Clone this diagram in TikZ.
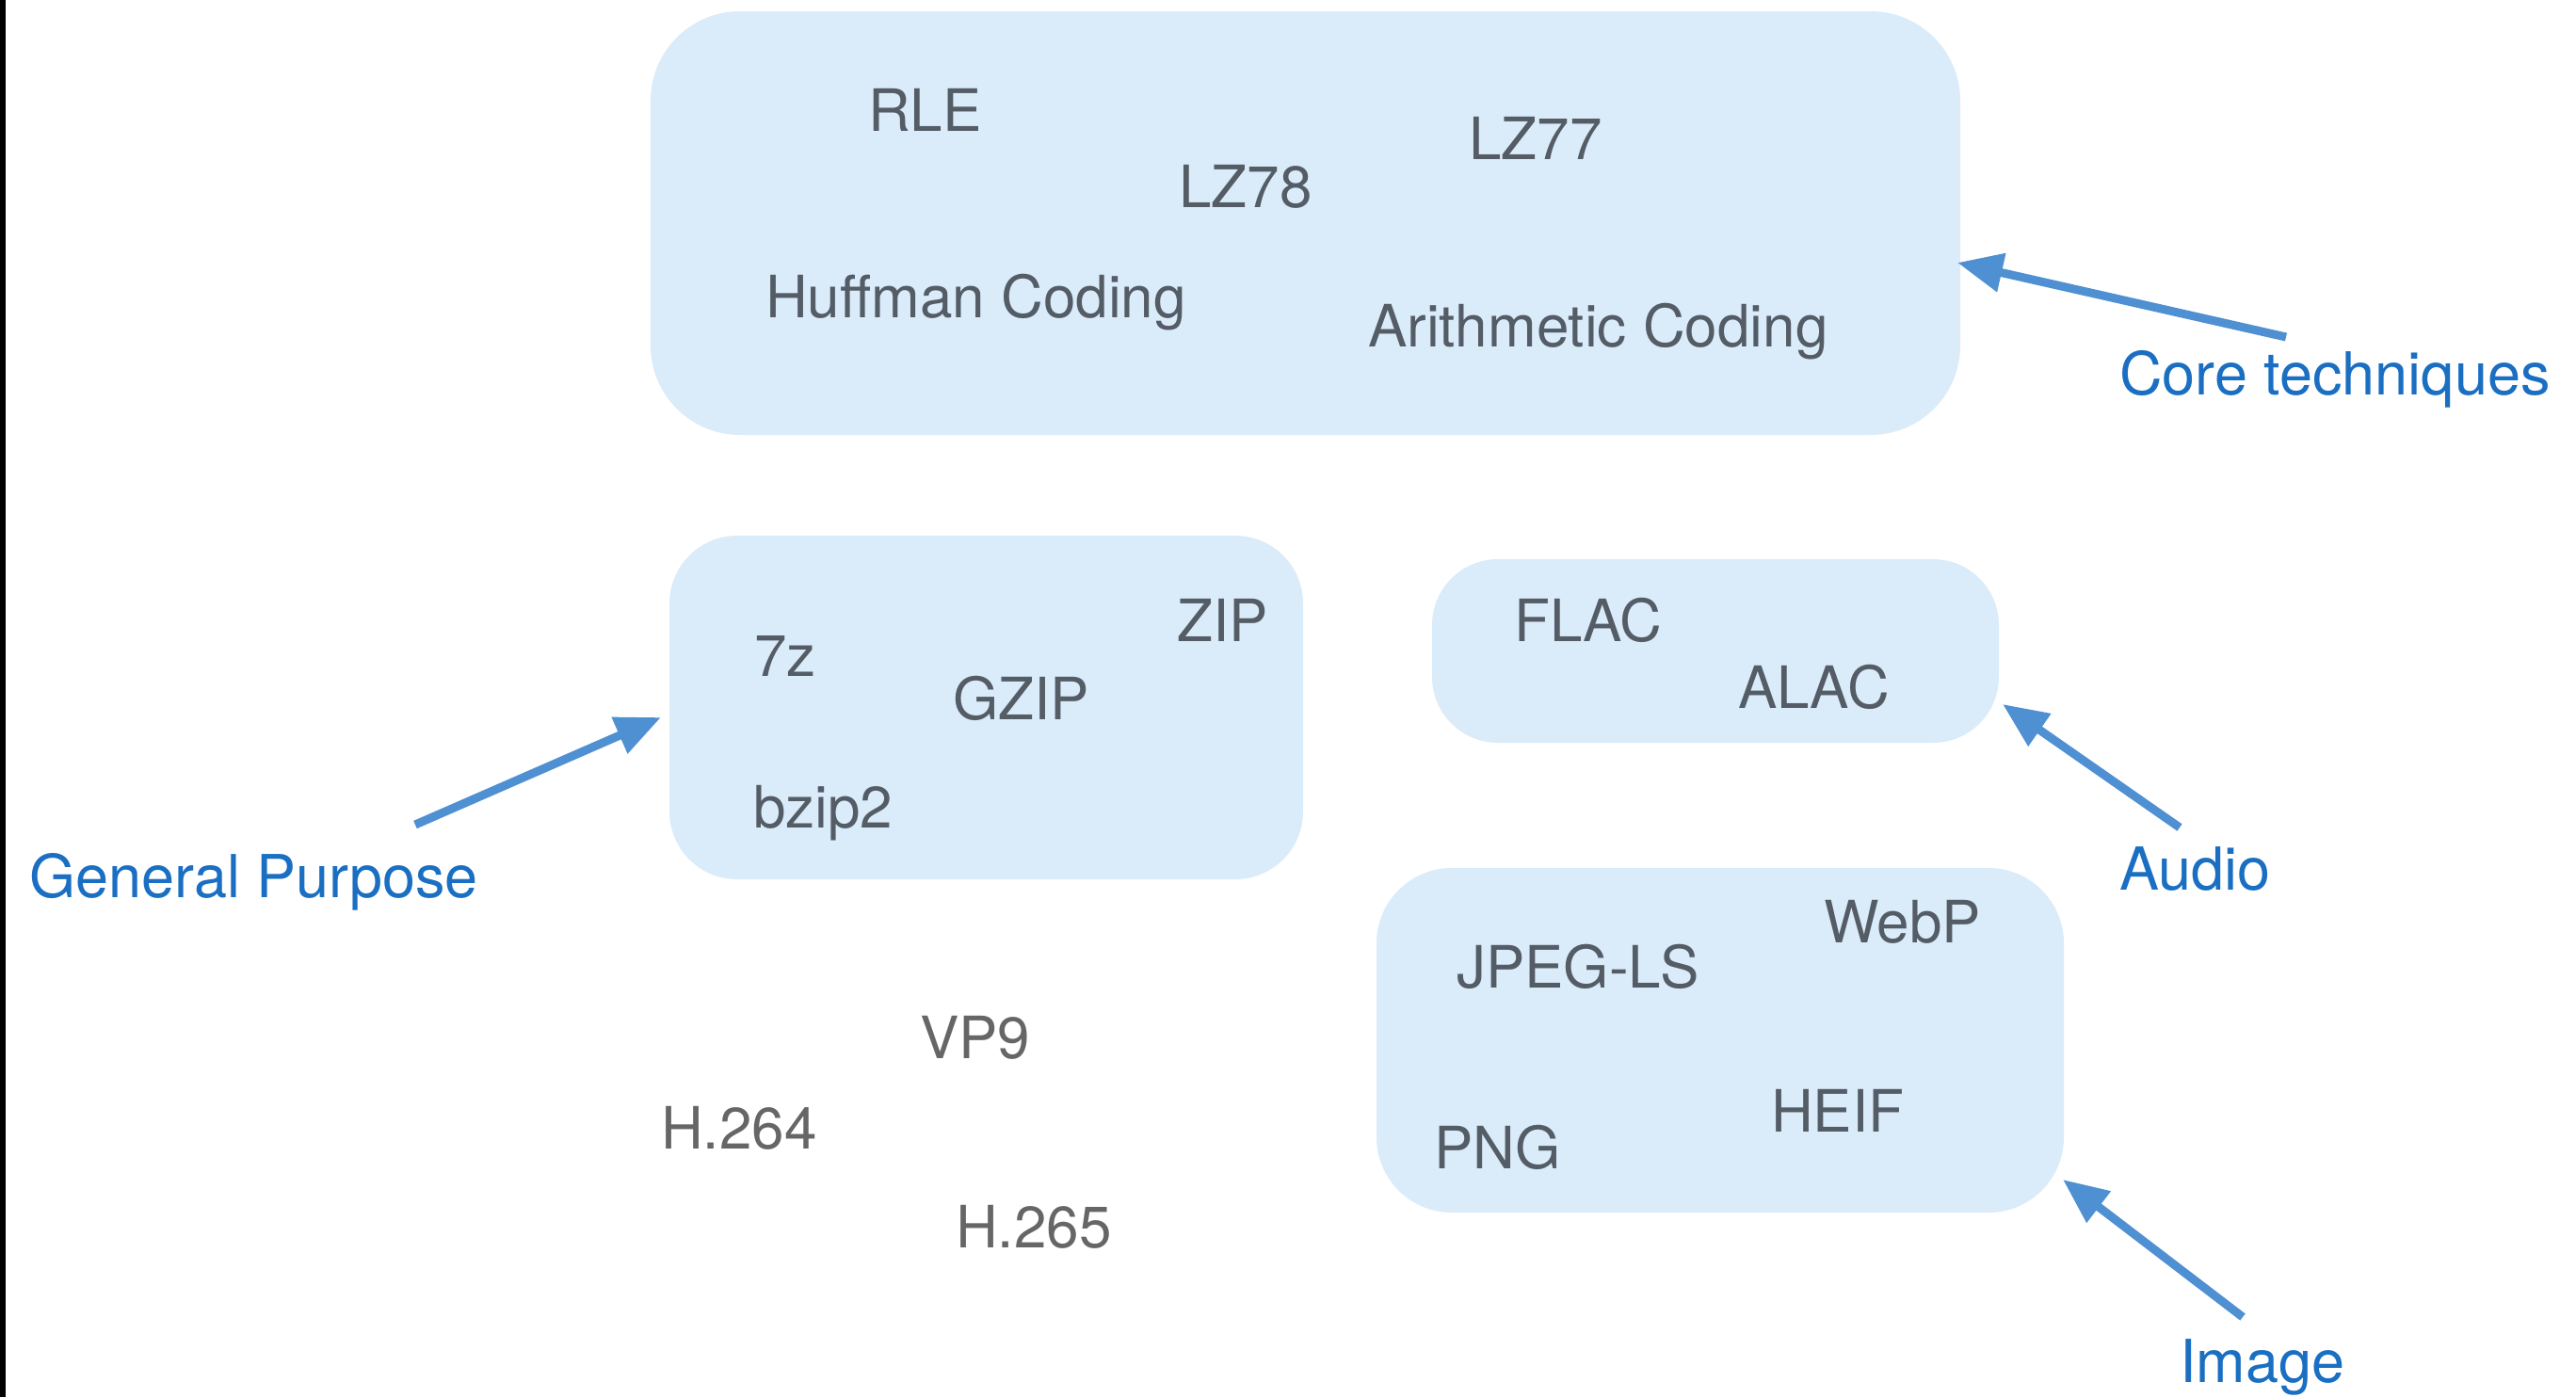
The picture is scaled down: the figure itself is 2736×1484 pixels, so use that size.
\documentclass[tikz,border=0pt]{standalone}
\usepackage{fontspec}
\setmainfont{TeX Gyre Heros}
\usetikzlibrary{arrows.meta}
\definecolor{boxfill}{RGB}{218,235,250}
\definecolor{itemtxt}{RGB}{84,92,102}
\definecolor{vidtxt}{RGB}{102,102,102}
\definecolor{labtxt}{RGB}{26,111,194}
\definecolor{arrowc}{RGB}{79,144,210}
\tikzset{
  grp/.style={fill=boxfill, draw=none},
  item/.style={anchor=base west, inner sep=0pt, text=itemtxt, font=\fontsize{62}{70}\selectfont},
  vid/.style={anchor=base west, inner sep=0pt, text=vidtxt, font=\fontsize{62}{70}\selectfont},
  lab/.style={anchor=base west, inner sep=0pt, text=labtxt, font=\fontsize{63}{70}\selectfont},
  pointer/.style={draw=arrowc, line width=9pt, -{Triangle[length=48pt,width=40pt]}}
}
\begin{document}
\begin{tikzpicture}[x=1pt,y=-1pt]
\useasboundingbox (0,0) rectangle (2736,1484);
\fill[black] (0,0) rectangle (6,1484);
% group boxes
\fill[grp, rounded corners=95pt] (691,12) rectangle (2082,462);
\fill[grp, rounded corners=72pt] (711,569) rectangle (1384,934);
\fill[grp, rounded corners=70pt] (1521,594) rectangle (2123,789);
\fill[grp, rounded corners=80pt] (1462,922) rectangle (2192,1288);
% anchors for arrow tips
\coordinate (coreTip) at (2079,279);
\coordinate (genTip) at (702,762);
\coordinate (audTip) at (2127,748);
\coordinate (imgTip) at (2191,1253);
% core techniques
\node[item] (rle) at (922,139) {RLE};
\node[item] (lz78) at (1252,220) {LZ78};
\node[item] (lz77) at (1560,169) {LZ77};
\node[item] (huff) at (813,337) {Huffman Coding};
\node[item] (arith) at (1453,368) {Arithmetic Coding};
% general purpose
\node[item] (sevenz) at (801,718) {7z};
\node[item] (gzip) at (1012,764) {GZIP};
\node[item] (zip) at (1250,681) {ZIP};
\node[item] (bzip) at (800,879) {bzip2};
% audio
\node[item] (flac) at (1608,681) {FLAC};
\node[item] (alac) at (1846,752) {ALAC};
% image
\node[item] (jpegls) at (1547,1049) {JPEG-LS};
\node[item] (webp) at (1937,1001) {WebP};
\node[item] (heif) at (1881,1202) {HEIF};
\node[item] (png) at (1523,1241) {PNG};
% video
\node[vid] (vp9) at (977,1124) {VP9};
\node[vid] (h264) at (702,1220) {H.264};
\node[vid] (h265) at (1015,1325) {H.265};
% labels
\node[lab] (lcore) at (2251,419) {Core techniques};
\node[lab] (lgen) at (31,953) {General Purpose};
\node[lab] (laud) at (2251,945) {Audio};
\node[lab] (limg) at (2315,1468) {Image};
% arrow tails
\coordinate (coreTail) at (2428,358);
\coordinate (genTail) at (441,876);
\coordinate (audTail) at (2315,879);
\coordinate (imgTail) at (2382,1399);
\draw[pointer] (coreTail) -- (coreTip);
\draw[pointer] (genTail) -- (genTip);
\draw[pointer] (audTail) -- (audTip);
\draw[pointer] (imgTail) -- (imgTip);
\end{tikzpicture}
\end{document}
